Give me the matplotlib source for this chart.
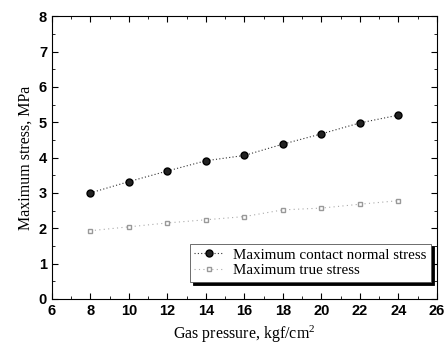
import numpy as np
import matplotlib.pyplot as plt
from matplotlib.ticker import MultipleLocator

# data
pressure = [8, 10, 12, 14, 16, 18, 20, 22, 24]
normal_stress = [3.0, 3.32, 3.62, 3.91, 4.06, 4.38, 4.67, 4.98, 5.2]
true_stress = [1.93, 2.04, 2.15, 2.24, 2.33, 2.52, 2.57, 2.68, 2.78]

plt.rcParams["mathtext.fontset"] = "custom"
plt.rcParams["mathtext.rm"] = "Liberation Serif"
plt.rcParams["mathtext.it"] = "Liberation Serif:italic"

fig = plt.figure(figsize=(4.44, 3.44), dpi=100)
ax = fig.add_axes([0.117, 0.131, 0.867, 0.822])

ax.plot(pressure, normal_stress, linestyle=(0, (1, 2)), color="#333333", linewidth=0.8,
        marker="o", markersize=5, markerfacecolor="#222222", markeredgecolor="black",
        label="Maximum contact normal stress")
ax.plot(pressure, true_stress, linestyle=(0, (1, 3)), color="#aaaaaa", linewidth=0.8,
        marker="s", markersize=3.5, markerfacecolor="white", markeredgecolor="#999999",
        label="Maximum true stress")

ax.set_xlim(6, 26)
ax.set_ylim(0, 8)
ax.xaxis.set_major_locator(MultipleLocator(2))
ax.xaxis.set_minor_locator(MultipleLocator(1))
ax.yaxis.set_major_locator(MultipleLocator(1))
ax.yaxis.set_minor_locator(MultipleLocator(0.5))
ax.tick_params(which="both", direction="in", top=True, right=True)
ax.tick_params(which="major", length=4, labelsize=10.5)
ax.tick_params(which="minor", length=2)
for lab in ax.get_xticklabels() + ax.get_yticklabels():
    lab.set_fontfamily("Liberation Sans")
    lab.set_fontweight("bold")

ax.set_xlabel(r"Gas pressure, kgf/cm$^\mathrm{2}$", fontfamily="Liberation Serif", fontsize=11.5)
ax.set_ylabel("Maximum stress, MPa", fontfamily="Liberation Serif", fontsize=11.5)

leg = ax.legend(loc="lower right", bbox_to_anchor=(0.985, 0.06), fancybox=False,
                shadow={"color": "black", "alpha": 1}, framealpha=1, edgecolor="#555555",
                prop={"family": "Liberation Serif", "size": 10.8}, handlelength=2.0,
                borderpad=0.3, labelspacing=0.15, handletextpad=0.6, borderaxespad=0)
leg.get_frame().set_linewidth(0.6)

fig.savefig("out.png", dpi=100)
